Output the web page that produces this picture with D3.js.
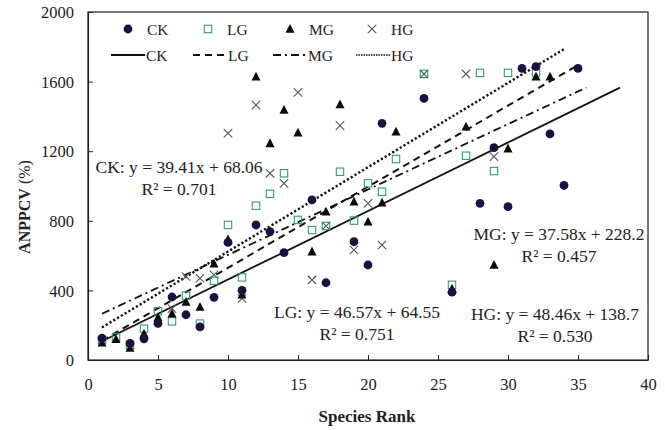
<!DOCTYPE html>
<html>
<head>
<meta charset="utf-8">
<script src="https://cdnjs.cloudflare.com/ajax/libs/d3/7.8.5/d3.min.js"></script>
<style>
  body { margin: 0; background: #fff; }
  svg text { font-family: "Liberation Serif", "DejaVu Serif", "Times New Roman", serif; }
</style>
</head>
<body>
<div id="chart"></div>
<script>
// series: species rank -> ANPPCV (%)
var ckRank = [1, 3, 4, 5, 6, 7, 8, 9, 10, 11, 12, 13, 14, 16, 17, 19, 20, 21, 24, 26, 28, 29, 30, 31, 32, 33, 34, 35];
var ckVal  = [125, 95, 122, 210, 362, 260, 190, 360, 676, 400, 776, 738, 617, 920, 444, 680, 546, 1360, 1504, 390, 900, 1220, 881, 1676, 1686, 1299, 1003, 1676];

var lgRank = [1, 2, 3, 4, 5, 6, 7, 8, 9, 10, 11, 12, 13, 14, 15, 16, 17, 18, 19, 20, 21, 22, 24, 26, 27, 28, 29, 30, 32];
var lgVal  = [115, 130, 85, 180, 280, 222, 370, 209, 455, 776, 475, 887, 955, 1073, 805, 747, 770, 1082, 801, 1015, 967, 1155, 1644, 432, 1174, 1650, 1086, 1650, 1650];

var mgRank = [1, 2, 3, 4, 5, 6, 7, 8, 9, 10, 11, 12, 13, 14, 15, 16, 17, 18, 19, 20, 21, 22, 26, 27, 29, 30, 32, 33];
var mgVal  = [100, 119, 69, 151, 245, 266, 333, 305, 553, 693, 375, 1628, 1245, 1437, 1306, 623, 852, 1469, 910, 795, 904, 1312, 410, 1341, 546, 1215, 1628, 1628];

var hgRank = [6, 7, 8, 9, 10, 11, 12, 13, 14, 15, 16, 17, 18, 19, 20, 21, 24, 27, 29];
var hgVal  = [295, 480, 470, 490, 1303, 354, 1466, 1073, 1015, 1538, 460, 770, 1347, 632, 900, 661, 1644, 1644, 1169];

// trendlines
var groups     = ["CK", "LG", "MG", "HG"];
var slopes     = [39.41, 46.57, 37.58, 48.46];
var intercepts = [68.06, 64.55, 228.2, 138.7];
var r2         = ["0.701", "0.751", "0.457", "0.530"];
var lineStart  = [1, 1, 1, 1];
var lineEnd    = [38, 35, 35.6, 34];

var xTicks = [0, 5, 10, 15, 20, 25, 30, 35, 40];
var yTicks = [0, 400, 800, 1200, 1600, 2000];

var serif = "'Liberation Serif', 'DejaVu Serif', serif";

var width = 665, height = 430;
var svg = d3.select("#chart").append("svg")
    .attr("width", width).attr("height", height);

var x = d3.scaleLinear().domain([0, 40]).range([88, 648]);
var y = d3.scaleLinear().domain([0, 2000]).range([360, 12]);

// frame
svg.append("rect")
    .attr("x", x(0)).attr("y", y(2000))
    .attr("width", x(40) - x(0)).attr("height", y(0) - y(2000))
    .attr("fill", "none").attr("stroke", "#222").attr("stroke-width", 1.2);

// axes, ticks pointing inward
var xAxis = svg.append("g")
    .attr("transform", "translate(0," + y(0) + ")")
    .call(d3.axisBottom(x).tickValues(xTicks).tickFormat(d3.format("d"))
        .tickSizeInner(-5).tickSizeOuter(0).tickPadding(18));
var yAxis = svg.append("g")
    .attr("transform", "translate(" + x(0) + ",0)")
    .call(d3.axisLeft(y).tickValues(yTicks).tickFormat(d3.format("d"))
        .tickSizeInner(-5).tickSizeOuter(0).tickPadding(14));

[xAxis, yAxis].forEach(function(g) {
    g.attr("font-family", serif);
    g.select(".domain").attr("stroke", "#222").attr("stroke-width", 1.2);
    g.selectAll(".tick line").attr("stroke", "#222");
    g.selectAll(".tick text")
        .style("font-family", serif)
        .attr("font-size", 16.5)
        .attr("fill", "#222");
});
yAxis.selectAll(".tick text").attr("dy", "0.35em");

// axis titles
svg.append("text")
    .attr("x", 367).attr("y", 422)
    .attr("text-anchor", "middle")
    .attr("font-size", 17).attr("font-weight", "bold")
    .attr("fill", "#222")
    .text("Species Rank");

var yTitle = svg.append("text")
    .attr("transform", "translate(30,207) rotate(-90)")
    .attr("text-anchor", "middle")
    .attr("font-size", 16)
    .attr("fill", "#222");
yTitle.append("tspan").attr("font-weight", "bold").text("ANPPCV");
yTitle.append("tspan").text(" (%)");

// line styles
var lineDash  = [null, "7,5", "8,4,2,4", "2.2,2.2"];
var lineWidth = [1.8, 2, 1.8, 2.4];

var lines = svg.append("g");
groups.forEach(function(gname, i) {
    var xs = [lineStart[i], lineEnd[i]];
    lines.append("line")
        .attr("x1", x(xs[0])).attr("y1", y(slopes[i] * xs[0] + intercepts[i]))
        .attr("x2", x(xs[1])).attr("y2", y(slopes[i] * xs[1] + intercepts[i]))
        .attr("stroke", "#111")
        .attr("stroke-width", lineWidth[i])
        .attr("stroke-dasharray", lineDash[i]);
});

// marker drawing
function drawMarker(sel, kind) {
    if (kind == "CK") {
        sel.append("circle").attr("r", 4.4).attr("fill", "#1b1040");
    } else if (kind == "LG") {
        sel.append("rect").attr("x", -3.7).attr("y", -3.7)
            .attr("width", 7.4).attr("height", 7.4)
            .attr("fill", "none").attr("stroke", "#2f9a7c").attr("stroke-width", 1.1);
    } else if (kind == "MG") {
        sel.append("path").attr("d", "M0,-5L4.5,3.8L-4.5,3.8Z").attr("fill", "#0a0a0a");
    } else {
        sel.append("path").attr("d", "M-4.2,-4.2L4.2,4.2M-4.2,4.2L4.2,-4.2")
            .attr("stroke", "#555").attr("stroke-width", 1.1).attr("fill", "none");
    }
}

var seriesRank = [ckRank, lgRank, mgRank, hgRank];
var seriesVal  = [ckVal, lgVal, mgVal, hgVal];

// draw HG first so the filled markers sit on top like the original
[3, 1, 2, 0].forEach(function(i) {
    var pts = seriesRank[i].map(function(r, j) { return [r, seriesVal[i][j]]; });
    var g = svg.append("g");
    g.selectAll("g")
        .data(pts)
        .enter()
        .append("g")
        .attr("transform", function(d) { return "translate(" + x(d[0]) + "," + y(d[1]) + ")"; })
        .each(function() { drawMarker(d3.select(this), groups[i]); });
});

// legend
var legMarkX = [128, 208, 290, 372];
var legLineX = [[111, 145], [193, 227], [273, 307], [356, 390]];
var leg = svg.append("g");
groups.forEach(function(gname, i) {
    var m = leg.append("g").attr("transform", "translate(" + legMarkX[i] + ",29)");
    drawMarker(m, gname);
    leg.append("text")
        .attr("x", legMarkX[i] + 19).attr("y", 34.5)
        .attr("font-size", 15.5).attr("fill", "#222").text(gname);
    leg.append("line")
        .attr("x1", legLineX[i][0]).attr("x2", legLineX[i][1])
        .attr("y1", 55).attr("y2", 55)
        .attr("stroke", "#111")
        .attr("stroke-width", i == 3 ? 1.6 : 1.8)
        .attr("stroke-dasharray", i == 3 ? "1.5,1" : lineDash[i]);
    leg.append("text")
        .attr("x", legLineX[i][1] + 1).attr("y", 60.5)
        .attr("font-size", 15.5).attr("fill", "#222").text(gname);
});

// equation labels
var eqX  = [179, 357, 559, 555];
var eqY  = [173, 318, 240, 320];
groups.forEach(function(gname, i) {
    svg.append("text")
        .attr("x", eqX[i]).attr("y", eqY[i])
        .attr("text-anchor", "middle")
        .attr("font-size", 17.5).attr("fill", "#222")
        .text(gname + ": y = " + slopes[i] + "x + " + intercepts[i]);
    svg.append("text")
        .attr("x", eqX[i]).attr("y", eqY[i] + 22)
        .attr("text-anchor", "middle")
        .attr("font-size", 17.5).attr("fill", "#222")
        .text("R\u00b2 = " + r2[i]);
});
</script>
</body>
</html>
